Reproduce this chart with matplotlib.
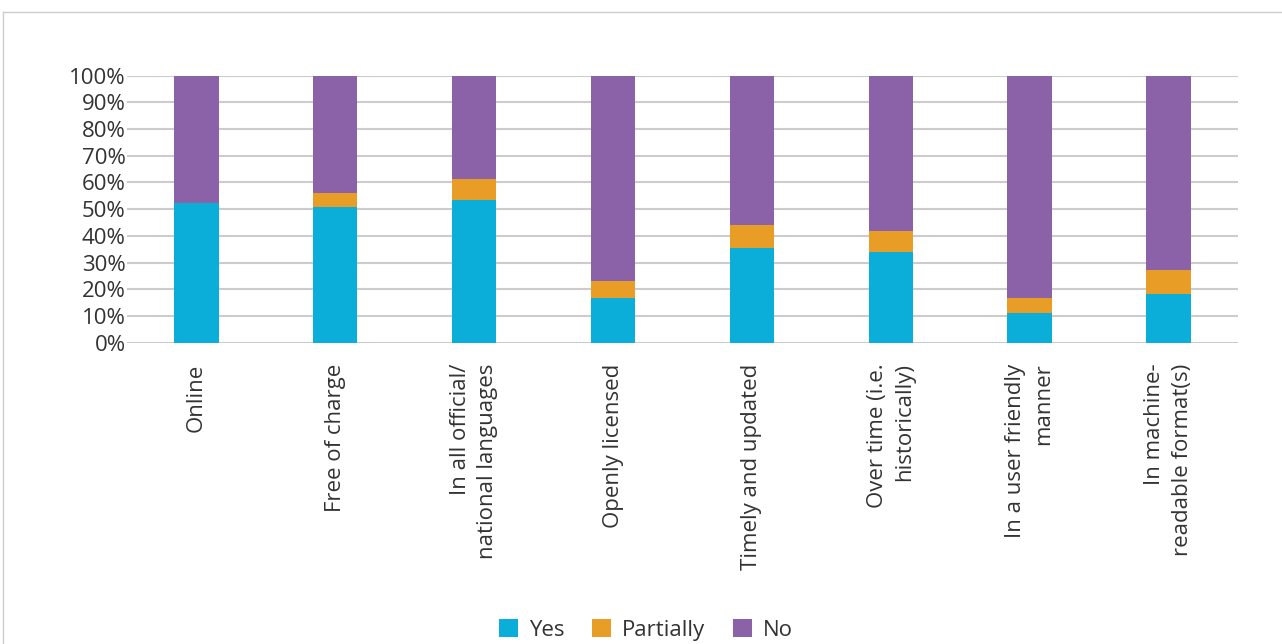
import matplotlib.pyplot as plt
from matplotlib.lines import Line2D
import numpy as np

plt.rcParams['font.family'] = ['Open Sans', 'DejaVu Sans']

# Data (share of respondents, %)
categories = ['Online', 'Free of charge', 'In all official/\nnational languages', 'Openly licensed',
              'Timely and updated', 'Over time (i.e.\nhistorically)', 'In a user friendly\nmanner',
              'In machine-\nreadable format(s)']
yes = [52.2, 50.7, 53.3, 16.6, 35.6, 34.0, 11.0, 18.2]
partially = [0.0, 5.2, 8.0, 6.5, 8.6, 7.9, 5.6, 9.1]
no = [100 - y - p for y, p in zip(yes, partially)]

c_yes = '#0BAED9'
c_part = '#E89D26'
c_no = '#8B61A8'

fig = plt.figure(figsize=(12.82, 6.44), dpi=100)
ax = fig.add_axes([0.099, 0.468, 0.8667, 0.4145])

x = np.arange(len(categories))
w = 0.32
ax.bar(x, yes, w, color=c_yes, label='Yes', zorder=3)
ax.bar(x, partially, w, bottom=yes, color=c_part, label='Partially', zorder=3)
ax.bar(x, no, w, bottom=np.array(yes) + np.array(partially), color=c_no, label='No', zorder=3)

ax.set_xlim(-0.5, len(categories) - 0.5)
ax.set_ylim(0, 100)
ax.set_yticks(range(0, 101, 10))
ax.set_yticklabels([f'{v}%' for v in range(0, 101, 10)], fontsize=16, color='#333333')
ax.yaxis.grid(True, color='#cccccc', linewidth=1.5, zorder=0)
ax.tick_params(axis='both', length=0, pad=1)
for s in ax.spines.values():
    s.set_visible(False)

ax.set_xticks(x)
ax.set_xticklabels(categories, rotation=90, fontsize=16, color='#333333',
                   ha='center', va='top', multialignment='right', linespacing=1.4)
ax.tick_params(axis='x', pad=15)

fig.legend(loc='center', bbox_to_anchor=(0.504, 0.022), ncol=3, frameon=False,
           fontsize=16, handlelength=0.85, handleheight=0.85, handletextpad=0.5,
           columnspacing=1.25, labelcolor='#333333')

# light frame around the chart
fig.add_artist(Line2D([3 / 1282, 1], [1 - 12 / 644, 1 - 12 / 644], color='#cccccc', linewidth=1))
fig.add_artist(Line2D([3 / 1282, 3 / 1282], [0, 1 - 12 / 644], color='#cccccc', linewidth=1))

fig.savefig('out.png', dpi=100)
